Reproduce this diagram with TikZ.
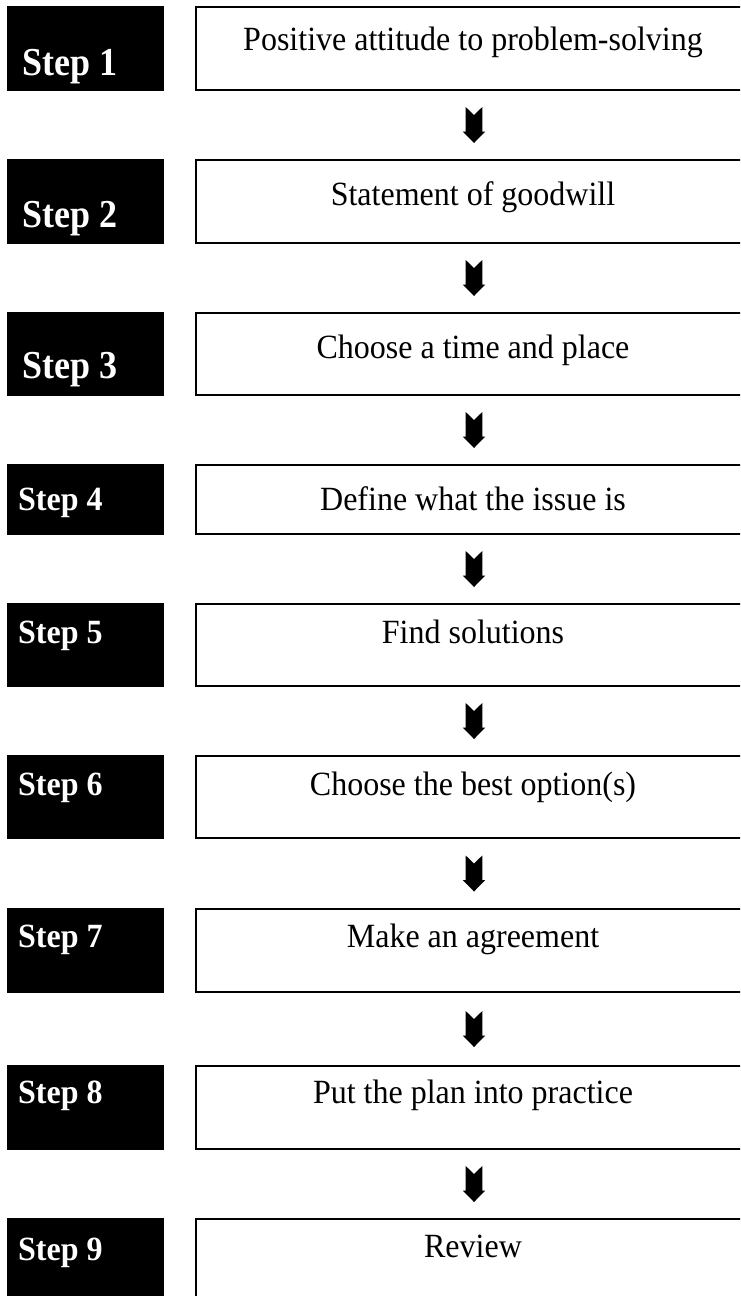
\documentclass[tikz,border=0pt]{standalone}
\usepackage{graphicx}
\usepackage{fontspec}
\setmainfont{Liberation Serif}
\usetikzlibrary{calc}
\newcommand\vstretch[2]{\scalebox{1}[#1]{#2}}
\tikzset{
  bbox/.style={fill=black, draw=none, inner sep=0pt, outer sep=0pt, minimum width=157pt, anchor=north west},
  wbox/.style={draw=black, line width=2.2pt, fill=white, inner sep=0pt, outer sep=0pt, minimum width=556pt, anchor=north west},
  lblbig/.style={text=white, font=\fontsize{36}{40}\selectfont\bfseries, anchor=base west, inner sep=0pt},
  lblsmall/.style={text=white, font=\fontsize{32}{36}\selectfont\bfseries, anchor=base west, inner sep=0pt},
  txt/.style={text=black, font=\fontsize{32}{36}\selectfont, anchor=base, inner sep=0pt},
  barrow/.pic={
    \fill[black] (-8.3,-18) -- (0,-10) -- (8.3,-18) -- (8.3,6.7) -- (11.2,6.7)
      -- (0,18) -- (-11.2,6.7) -- (-8.3,6.7) -- cycle;
  }
}
\begin{document}
\begin{tikzpicture}[x=1pt,y=-1pt]
\clip (0,0) rectangle (740,1296);
\fill[white] (0,0) rectangle (740,1296);

% step 1
\node[bbox, minimum height=85pt] (s1) at (7,6) {};
\node[wbox, minimum height=83pt] (b1) at (196,7) {};
\node[lblbig] (l1) at (22,75) {\vstretch{1.1}{Step 1}};
\node[txt] (t1) at (473,50) {\vstretch{1.06}{Positive attitude to problem-solving}};
% step 2
\node[bbox, minimum height=85pt] (s2) at (7,159) {};
\node[wbox, minimum height=83pt] (b2) at (196,160) {};
\node[lblbig] (l2) at (22,227) {\vstretch{1.1}{Step 2}};
\node[txt] (t2) at (473,205) {\vstretch{1.06}{Statement of goodwill}};
% step 3
\node[bbox, minimum height=84pt] (s3) at (7,312) {};
\node[wbox, minimum height=82pt] (b3) at (196,313) {};
\node[lblbig] (l3) at (22,378) {\vstretch{1.1}{Step 3}};
\node[txt] (t3) at (473,358) {\vstretch{1.06}{Choose a time and place}};
% step 4
\node[bbox, minimum height=71pt] (s4) at (7,464) {};
\node[wbox, minimum height=69pt] (b4) at (196,465) {};
\node[lblsmall] (l4) at (18,510) {\vstretch{1.06}{Step 4}};
\node[txt] (t4) at (473,510) {\vstretch{1.06}{Define what the issue is}};
% step 5
\node[bbox, minimum height=84pt] (s5) at (7,603) {};
\node[wbox, minimum height=82pt] (b5) at (196,604) {};
\node[lblsmall] (l5) at (18,643) {\vstretch{1.06}{Step 5}};
\node[txt] (t5) at (473,643) {\vstretch{1.06}{Find solutions}};
% step 6
\node[bbox, minimum height=84pt] (s6) at (7,755) {};
\node[wbox, minimum height=82pt] (b6) at (196,756) {};
\node[lblsmall] (l6) at (18,795) {\vstretch{1.06}{Step 6}};
\node[txt] (t6) at (473,795) {\vstretch{1.06}{Choose the best option(s)}};
% step 7
\node[bbox, minimum height=85pt] (s7) at (7,908) {};
\node[wbox, minimum height=83pt] (b7) at (196,909) {};
\node[lblsmall] (l7) at (18,947) {\vstretch{1.06}{Step 7}};
\node[txt] (t7) at (473,947) {\vstretch{1.06}{Make an agreement}};
% step 8
\node[bbox, minimum height=85pt] (s8) at (7,1065) {};
\node[wbox, minimum height=83pt] (b8) at (196,1066) {};
\node[lblsmall] (l8) at (18,1103) {\vstretch{1.06}{Step 8}};
\node[txt] (t8) at (473,1103) {\vstretch{1.06}{Put the plan into practice}};
% step 9
\node[bbox, minimum height=95pt] (s9) at (7,1218) {};
\node[wbox, minimum height=95pt] (b9) at (196,1219) {};
\node[lblsmall] (l9) at (18,1260) {\vstretch{1.06}{Step 9}};
\node[txt] (t9) at (473,1257) {\vstretch{1.06}{Review}};

% arrows
\pic at ($(b1.south)!0.5!(b2.north)$) {barrow};
\pic at ($(b2.south)!0.5!(b3.north)$) {barrow};
\pic at ($(b3.south)!0.5!(b4.north)$) {barrow};
\pic at ($(b4.south)!0.5!(b5.north)$) {barrow};
\pic at ($(b5.south)!0.5!(b6.north)$) {barrow};
\pic at ($(b6.south)!0.5!(b7.north)$) {barrow};
\pic at ($(b7.south)!0.5!(b8.north)$) {barrow};
\pic at ($(b8.south)!0.5!(b9.north)$) {barrow};
\end{tikzpicture}
\end{document}
